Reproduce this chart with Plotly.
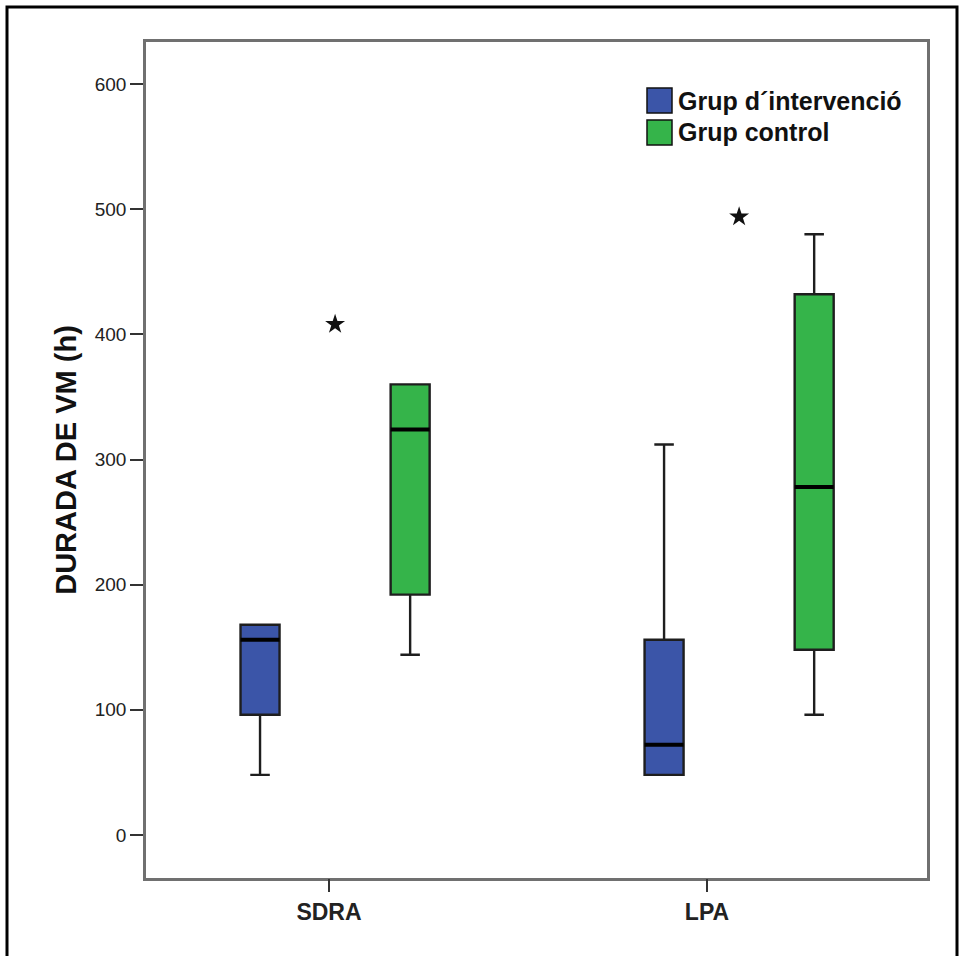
import plotly.graph_objects as go

# ---------------- data ----------------
categories = ["SDRA", "LPA"]
groups = ["Grup d´intervenció", "Grup control"]
group_colors = ["#3b55a8", "#35b44a"]

# Grup d'intervenció (blue)
int_lower = [48, 48]
int_q1 = [96, 48]
int_median = [156, 72]
int_q3 = [168, 156]
int_upper = [168, 312]

# Grup control (green)
ctl_lower = [144, 96]
ctl_q1 = [192, 148]
ctl_median = [324, 278]
ctl_q3 = [360, 432]
ctl_upper = [360, 480]

# extreme values (asterisks)
extreme_cat = ["SDRA", "LPA"]
extreme_val = [408, 494]

y_ticks = [0, 100, 200, 300, 400, 500, 600]

# ---------------- figure ----------------
W, H = 960, 956
L, R, T, B = 146, 33, 42, 78
pw, ph = W - L - R, H - T - B


def px_x(px):
    return (px - L) / pw


def px_y(py):
    return (H - B - py) / ph


FONT = "Arial, Liberation Sans, sans-serif"
fig = go.Figure()

stats = [
    (int_lower, int_q1, int_median, int_q3, int_upper),
    (ctl_lower, ctl_q1, ctl_median, ctl_q3, ctl_upper),
]
for i, (lo, q1, med, q3, up) in enumerate(stats):
    og = "g%d" % i
    fig.add_trace(go.Box(
        x=categories, lowerfence=lo, q1=q1, median=med, q3=q3, upperfence=up,
        name=groups[i], fillcolor=group_colors[i],
        line=dict(color="#1e1e1e", width=2.4), whiskerwidth=0.5,
        offsetgroup=og, alignmentgroup="all", showlegend=False,
        boxpoints=False,
    ))
    # thick median line overlay
    fig.add_trace(go.Box(
        x=categories, lowerfence=med, q1=med, median=med, q3=med, upperfence=med,
        name=groups[i] + " mediana", fillcolor="rgba(0,0,0,0)",
        line=dict(color="#000000", width=4), whiskerwidth=0,
        offsetgroup=og, alignmentgroup="all", showlegend=False,
        boxpoints=False, hoverinfo="skip",
    ))

fig.add_trace(go.Scatter(
    x=extreme_cat, y=extreme_val, mode="markers",
    marker=dict(symbol="star", size=15, color="#111111"),
    showlegend=False, hoverinfo="y",
))

# carrier for the category tick labels on the secondary x axis
fig.add_trace(go.Scatter(
    x=categories, y=[None] * len(categories), xaxis="x2", yaxis="y",
    mode="markers", showlegend=False, hoverinfo="skip",
))

grid_color = "#707070"
fig.update_layout(
    width=W, height=H,
    margin=dict(l=L, r=R, t=T, b=B, autoexpand=False),
    paper_bgcolor="white", plot_bgcolor="white",
    boxmode="group", boxgap=0.257, boxgroupgap=0.74,
    showlegend=False,
    font=dict(family=FONT, color="#222222"),
    xaxis=dict(
        type="category", categoryorder="array", categoryarray=categories,
        range=[-0.468, 1.465], showticklabels=False, ticks="",
        showline=True, mirror=True, linecolor=grid_color, linewidth=2.5,
        showgrid=False, zeroline=False, fixedrange=True,
    ),
    xaxis2=dict(
        overlaying="x", anchor="y", side="bottom", type="category",
        categoryorder="array", categoryarray=categories,
        range=[-0.484, 1.582],
        ticks="outside", ticklen=13, tickwidth=2, tickcolor="#333333",
        tickfont=dict(family=FONT, size=23, color="#222222", weight="bold"),
        showline=False, showgrid=False, zeroline=False,
    ),
    yaxis=dict(
        range=[-34.4, 633.6], tickvals=y_ticks,
        ticks="outside", ticklen=13, tickwidth=2, tickcolor="#333333",
        tickfont=dict(family=FONT, size=19, color="#222222"),
        showline=True, mirror=True, linecolor=grid_color, linewidth=2.5,
        showgrid=False, zeroline=False, automargin=False,
        title=dict(text="DURADA DE VM (h)", standoff=10,
                   font=dict(family=FONT, size=29, color="#111111", weight="bold")),
    ),
)

# manual legend (large square swatches)
shapes = []
annotations = []
row_top = [88, 120]
for i, g in enumerate(groups):
    shapes.append(dict(
        type="rect", xref="paper", yref="paper",
        x0=px_x(647), x1=px_x(672), y0=px_y(row_top[i] + 25), y1=px_y(row_top[i]),
        fillcolor=group_colors[i], line=dict(color="#111111", width=1.5),
    ))
    annotations.append(dict(
        xref="paper", yref="paper", x=px_x(676), y=px_y(row_top[i] + 12.5),
        xanchor="left", yanchor="middle", showarrow=False, text=g,
        font=dict(family=FONT, size=25, color="#111111", weight="bold"),
    ))

# outer black frame
shapes.append(dict(
    type="rect", xref="paper", yref="paper",
    x0=px_x(7), x1=px_x(957), y0=px_y(990), y1=px_y(7),
    line=dict(color="black", width=3), fillcolor="rgba(0,0,0,0)", layer="above",
))

fig.update_layout(shapes=shapes, annotations=annotations)

fig.write_html("out.html")
